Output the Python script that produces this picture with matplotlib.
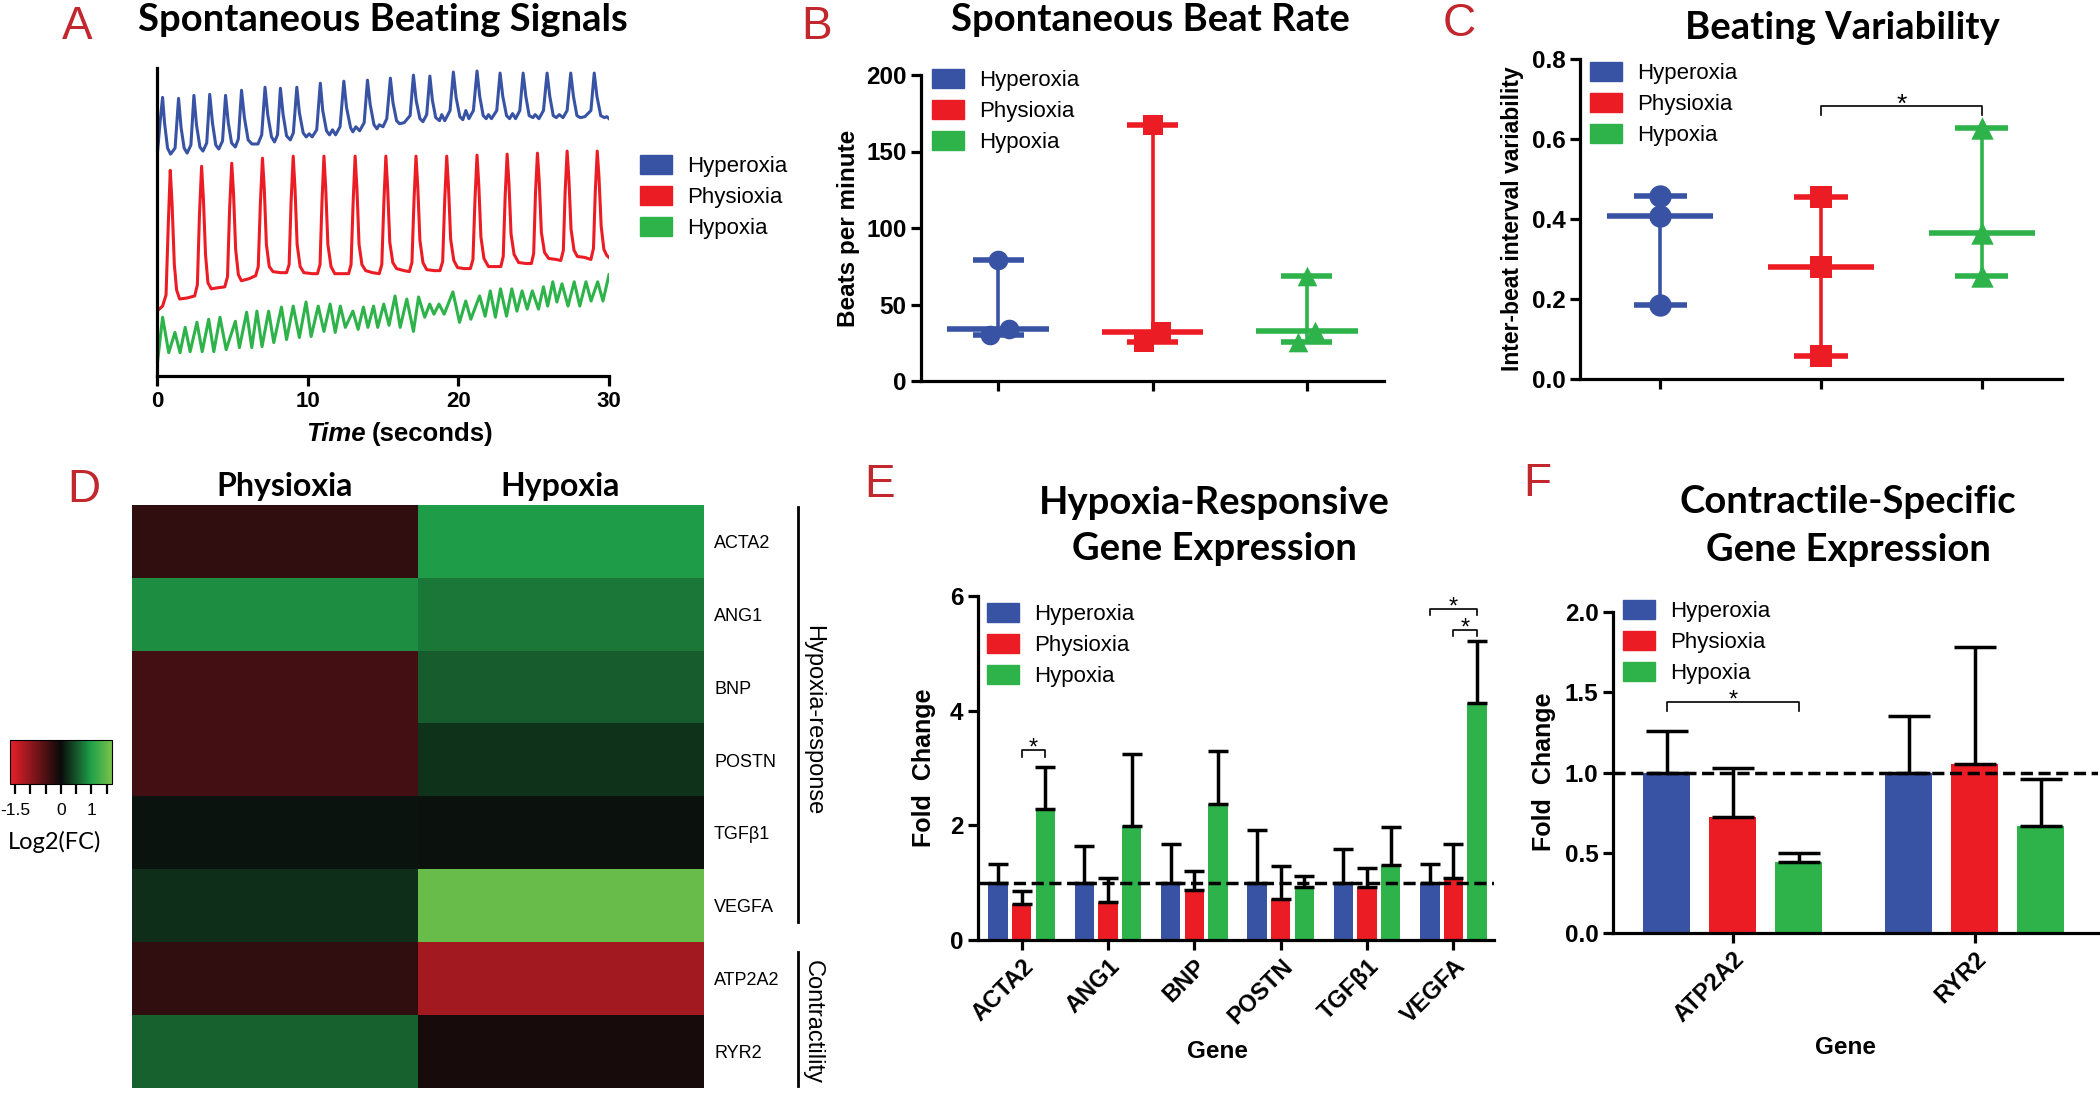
import numpy as np
import matplotlib
matplotlib.use('Agg')
import matplotlib.pyplot as plt
from matplotlib.patches import Patch
from matplotlib.lines import Line2D
from matplotlib.colors import LinearSegmentedColormap, Normalize
from matplotlib import font_manager as fm

# ======================= DATA =======================
GROUPS = ['Hyperoxia', 'Physioxia', 'Hypoxia']

# --- Panel A: spontaneous beating traces (time [s], signal [a.u.]) ---
hyperoxia_trace = [
    (0.0, 215), (0.2, 250), (0.37, 275), (0.5, 250), (0.7, 225), (0.9, 219), (1.2, 225), (1.43, 274),
    (1.6, 245), (1.8, 225), (2.0, 220), (2.25, 228), (2.45, 277), (2.62, 248), (2.85, 226), (3.05, 222),
    (3.3, 230), (3.5, 278), (3.68, 250), (3.9, 228), (4.1, 224), (4.35, 232), (4.55, 277), (4.73, 250),
    (4.95, 230), (5.2, 226), (5.4, 234), (5.61, 282), (5.8, 255), (6.05, 233), (6.3, 229), (6.7, 229),
    (6.95, 238), (7.17, 285), (7.35, 258), (7.6, 236), (7.8, 231), (8.0, 238), (8.19, 284), (8.37, 258),
    (8.6, 237), (8.85, 233), (9.05, 240), (9.28, 285), (9.45, 260), (9.7, 240), (9.9, 236), (10.1, 239),
    (10.3, 236), (10.6, 243), (10.84, 289), (11.0, 262), (11.25, 242), (11.45, 238), (11.65, 243),
    (11.85, 238), (12.15, 246), (12.4, 291), (12.58, 265), (12.85, 245), (13.0, 241), (13.2, 246),
    (13.45, 242), (13.75, 250), (13.97, 292), (14.15, 268), (14.4, 248), (14.6, 244), (14.75, 248),
    (15.0, 246), (15.25, 254), (15.49, 294), (15.66, 270), (15.9, 252), (16.1, 249), (16.4, 250),
    (16.8, 257), (17.02, 297), (17.2, 272), (17.45, 254), (17.65, 251), (17.9, 258), (18.11, 296),
    (18.28, 272), (18.5, 255), (18.75, 252), (18.9, 258), (19.1, 252), (19.45, 262), (19.67, 300),
    (19.85, 275), (20.1, 256), (20.3, 253), (20.5, 262), (20.7, 254), (21.0, 262), (21.24, 301),
    (21.42, 276), (21.65, 257), (21.85, 254), (22.0, 258), (22.2, 254), (22.55, 262), (22.77, 299),
    (22.95, 276), (23.2, 257), (23.4, 254), (23.6, 259), (23.8, 254), (24.08, 262), (24.3, 299),
    (24.48, 276), (24.7, 257), (24.95, 255), (25.1, 258), (25.35, 254), (25.65, 262), (25.89, 299),
    (26.07, 276), (26.3, 257), (26.5, 255), (26.7, 258), (26.95, 255), (27.22, 262), (27.46, 299),
    (27.64, 276), (27.87, 257), (28.1, 255), (28.4, 256), (28.8, 262), (29.02, 299), (29.2, 276),
    (29.45, 257), (29.7, 255), (29.85, 256), (30.0, 254)]

physioxia_trace = [
    (0.0, 64), (0.37, 69), (0.6, 80), (0.75, 150), (0.88, 203), (1.0, 170), (1.15, 110), (1.3, 85),
    (1.5, 76), (2.0, 77), (2.5, 79), (2.68, 90), (2.82, 160), (2.96, 207), (3.08, 175), (3.22, 120),
    (3.38, 92), (3.6, 86), (4.0, 87), (4.5, 88), (4.68, 98), (4.82, 165), (4.96, 210), (5.08, 180),
    (5.22, 125), (5.4, 100), (5.6, 94), (6.1, 96), (6.55, 99), (6.72, 108), (6.86, 170), (7.0, 215),
    (7.12, 185), (7.26, 130), (7.45, 108), (7.7, 103), (8.2, 102), (8.6, 102), (8.77, 110), (8.9, 172),
    (9.04, 217), (9.16, 185), (9.3, 130), (9.5, 108), (9.75, 102), (10.3, 101), (10.65, 101),
    (10.82, 110), (10.95, 172), (11.08, 217), (11.2, 185), (11.34, 130), (11.55, 108), (11.8, 101),
    (12.3, 101), (12.72, 101), (12.88, 110), (13.02, 172), (13.15, 217), (13.27, 185), (13.41, 130),
    (13.6, 110), (13.85, 104), (14.3, 102), (14.75, 101), (14.92, 110), (15.06, 172), (15.19, 217),
    (15.31, 185), (15.45, 132), (15.65, 112), (15.9, 106), (16.4, 104), (16.75, 103), (16.92, 112),
    (17.06, 174), (17.19, 217), (17.31, 186), (17.45, 134), (17.65, 112), (17.9, 105), (18.4, 104),
    (18.78, 104), (18.96, 113), (19.1, 175), (19.23, 217), (19.35, 186), (19.49, 135), (19.7, 114),
    (19.95, 107), (20.4, 106), (20.8, 106), (20.97, 115), (21.11, 176), (21.24, 218), (21.36, 188),
    (21.5, 137), (21.7, 116), (22.0, 108), (22.5, 108), (22.82, 108), (22.98, 118), (23.11, 178),
    (23.24, 219), (23.36, 190), (23.5, 140), (23.7, 120), (24.0, 112), (24.5, 111), (24.85, 111),
    (25.0, 121), (25.12, 180), (25.25, 220), (25.37, 192), (25.51, 142), (25.72, 122), (26.0, 116),
    (26.5, 115), (26.8, 114), (26.97, 124), (27.09, 182), (27.22, 222), (27.34, 194), (27.48, 145),
    (27.68, 124), (27.9, 118), (28.4, 117), (28.8, 115), (28.97, 126), (29.09, 182), (29.22, 222),
    (29.34, 195), (29.48, 148), (29.66, 125), (29.85, 119), (30.0, 117)]

hypoxia_trace = [
    (0.0, 9), (0.37, 58), (0.78, 23), (1.19, 43), (1.53, 23), (1.87, 48), (2.2, 24), (2.65, 53),
    (3.0, 24), (3.43, 56), (3.77, 24), (4.18, 58), (4.59, 26), (5.2, 54), (5.47, 28), (5.95, 63),
    (6.29, 28), (6.63, 64), (6.97, 29), (7.41, 64), (7.75, 33), (8.26, 68), (8.6, 36), (9.04, 69),
    (9.45, 38), (9.89, 73), (10.23, 39), (10.7, 69), (11.08, 44), (11.49, 71), (11.83, 43), (12.17, 69),
    (12.5, 48), (13.0, 64), (13.35, 46), (13.7, 68), (14.0, 48), (14.37, 69), (14.65, 48), (15.05, 71),
    (15.4, 50), (15.8, 79), (16.14, 48), (16.58, 76), (17.02, 44), (17.36, 78), (17.77, 58), (18.1, 71),
    (18.38, 61), (18.72, 71), (19.06, 61), (19.64, 83), (20.08, 53), (20.49, 74), (20.83, 56),
    (21.41, 79), (21.78, 59), (22.12, 84), (22.46, 58), (22.8, 86), (23.2, 59), (23.55, 86), (23.89, 64),
    (24.23, 84), (24.57, 66), (24.91, 84), (25.32, 66), (25.65, 88), (25.93, 69), (26.27, 93),
    (26.54, 73), (26.88, 91), (27.28, 69), (27.69, 93), (28.06, 69), (28.47, 93), (28.81, 74),
    (29.25, 93), (29.6, 74), (30.0, 100)]
A_xticks = [0, 10, 20, 30]

# --- Panel B: beats per minute (individual samples) ---
B_hyperoxia = [30, 34, 79]
B_physioxia = [25.5, 32, 167]
B_hypoxia = [25.5, 32.5, 68.5]
B_yticks = [0, 50, 100, 150, 200]

# --- Panel C: inter-beat interval variability ---
C_hyperoxia = [0.185, 0.407, 0.457]
C_physioxia = [0.058, 0.280, 0.454]
C_hypoxia = [0.257, 0.365, 0.627]
C_yticks = [0.0, 0.2, 0.4, 0.6, 0.8]
C_sig = [(1, 2, 0.682)]          # (group a, group b, bracket height)

# --- Panel D: heatmap log2 fold change ---
D_genes = ['ACTA2', 'ANG1', 'BNP', 'POSTN', 'TGFβ1', 'VEGFA', 'ATP2A2', 'RYR2']
D_conditions = ['Physioxia', 'Hypoxia']
D_physioxia_log2fc = [-0.29, 0.87, -0.43, -0.43, 0.07, 0.24, -0.29, 0.59]
D_hypoxia_log2fc = [0.97, 0.73, 0.54, 0.27, 0.05, 1.55, -1.15, -0.10]
D_cbar_ticks = [-1.5, -1.0, -0.5, 0.0, 0.5, 1.0, 1.5]
D_cbar_labels = ['-1.5', '', '', '0', '', '1', '']

# --- Panel E: hypoxia-responsive gene expression (fold change, mean + SD) ---
E_genes = ['ACTA2', 'ANG1', 'BNP', 'POSTN', 'TGFβ1', 'VEGFA']
E_hyperoxia = [1.0, 1.0, 1.0, 1.0, 1.0, 1.0]
E_hyperoxia_err = [0.32, 0.64, 0.67, 0.91, 0.58, 0.32]
E_physioxia = [0.62, 0.67, 0.88, 0.72, 0.92, 1.09]
E_physioxia_err = [0.23, 0.42, 0.32, 0.57, 0.33, 0.58]
E_hypoxia = [2.28, 1.98, 2.38, 0.92, 1.31, 4.13]
E_hypoxia_err = [0.73, 1.27, 0.92, 0.19, 0.66, 1.08]
E_yticks = [0, 2, 4, 6]
E_sig = [(0, 1, 2, 3.31), (5, 0, 2, 5.78), (5, 1, 2, 5.41)]   # (gene, group a, group b, height)

# --- Panel F: contractile-specific gene expression ---
F_genes = ['ATP2A2', 'RYR2']
F_hyperoxia = [1.0, 1.0]
F_hyperoxia_err = [0.26, 0.35]
F_physioxia = [0.724, 1.05]
F_physioxia_err = [0.306, 0.73]
F_hypoxia = [0.44, 0.667]
F_hypoxia_err = [0.06, 0.293]
F_yticks = [0.0, 0.5, 1.0, 1.5, 2.0]
F_sig = [(0, 0, 2, 1.44)]

# ======================= STYLE / LAYOUT =======================
W, H = 2100, 1100
fig = plt.figure(figsize=(W / 100, H / 100), dpi=100)
fig.patch.set_facecolor('white')


def box(x0, y0, x1, y1):
    return [x0 / W, 1 - y1 / H, (x1 - x0) / W, (y1 - y0) / H]


def fx(x):
    return x / W


def fy(y):
    return 1 - y / H


avail = {f.name for f in fm.fontManager.ttflist}
SANS = 'Liberation Sans' if 'Liberation Sans' in avail else 'DejaVu Sans'
TITLEF = 'Lato' if 'Lato' in avail else SANS
plt.rcParams['font.family'] = SANS

BLUE, RED, GREEN = '#3953a4', '#ec1c24', '#2db34a'
COLORS = [BLUE, RED, GREEN]
MARKERS = ['o', 's', '^']
LETTER = '#c1272d'
SPW = 2.3
TICKFS = 17.5
TITLEFS = 27.5


def style_axes(ax, labelsize=TICKFS):
    for s in ('top', 'right'):
        ax.spines[s].set_visible(False)
    for s in ('left', 'bottom'):
        ax.spines[s].set_linewidth(SPW)
    ax.tick_params(width=SPW, length=7, direction='out', labelsize=labelsize)


def add_legend(ax, x_left, y_top):
    handles = [Patch(facecolor=c, edgecolor=c) for c in COLORS]
    ax.legend(handles, GROUPS, loc='upper left', bbox_to_anchor=(fx(x_left), fy(y_top)),
              bbox_transform=fig.transFigure, frameon=False, fontsize=16,
              handlelength=1.45, handleheight=0.95, handletextpad=0.65,
              labelspacing=0.4, borderpad=0, borderaxespad=0)


def title(x, y, s, size=TITLEFS):
    fig.text(fx(x), fy(y), s, ha='center', va='center', fontsize=size,
             fontweight='bold', family=TITLEF)


def letter(x, y, s):
    fig.text(fx(x), fy(y), s, ha='center', va='center', fontsize=33, color=LETTER)


def vlabel(x, y, s, size):
    fig.text(fx(x), fy(y), s, ha='center', va='center', rotation=90,
             fontsize=size, fontweight='bold')


def bracket(ax, x1, x2, ytop, drop, fs=17):
    ax.plot([x1, x1, x2, x2], [ytop - drop, ytop, ytop, ytop - drop], color='black', lw=1.2,
            zorder=6, clip_on=False)
    ax.annotate('*', xy=((x1 + x2) / 2, ytop), xytext=(0, 1), textcoords='offset points',
                ha='center', va='center', fontsize=fs, zorder=6)


# ======================= PANEL A =======================
letter(77, 27, 'A')
title(383, 20, 'Spontaneous Beating Signals')
axA = fig.add_axes(box(157, 68, 609, 376))
for trace, c in zip([hyperoxia_trace, physioxia_trace, hypoxia_trace], COLORS):
    t, v = zip(*trace)
    axA.plot(t, v, color=c, lw=2.2, solid_joinstyle='round')
axA.set_xlim(0, 30)
axA.set_ylim(0, 304)
style_axes(axA, labelsize=16)
axA.set_yticks([])
axA.set_xticks(A_xticks, [str(v) for v in A_xticks], fontweight='bold')
fig.text(fx(366), fy(441), 'Time', ha='right', va='baseline', fontsize=18.5,
         fontweight='bold', style='italic')
fig.text(fx(372), fy(441), '(seconds)', ha='left', va='baseline', fontsize=18.5, fontweight='bold')
add_legend(axA, 640, 155)


# ======================= PANELS B & C =======================
def range_plot(ax, datasets, jitters, ms):
    for i, (vals, c, m, jit) in enumerate(zip(datasets, COLORS, MARKERS, jitters)):
        lo, med, hi = min(vals), float(np.median(vals)), max(vals)
        ax.plot([i, i], [lo, hi], color=c, lw=2.6, zorder=2)
        ax.plot([i - 0.33, i + 0.33], [med, med], color=c, lw=4.0, zorder=3, solid_capstyle='butt')
        for v in (lo, hi):
            ax.plot([i - 0.165, i + 0.165], [v, v], color=c, lw=4.0, zorder=3, solid_capstyle='butt')
        ax.scatter(np.array(jit) + i, vals, marker=m, s=ms, color=c, zorder=4, linewidths=0)


letter(817, 27, 'B')
title(1150, 20, 'Spontaneous Beat Rate')
axB = fig.add_axes(box(921, 75, 1384, 381))
B_JITTER = [[-0.055, 0.068, 0.0], [-0.055, 0.055, 0.0], [-0.06, 0.055, 0.0]]
range_plot(axB, [B_hyperoxia, B_physioxia, B_hypoxia], B_JITTER, 200)
axB.set_xlim(-0.5, 2.5)
axB.set_ylim(0, 200)
style_axes(axB)
axB.set_yticks(B_yticks, [str(v) for v in B_yticks], fontweight='bold')
axB.set_xticks([0, 1, 2], ['', '', ''])
vlabel(849, 228, 'Beats per minute', 17.5)
add_legend(axB, 932, 69)

letter(1459, 24, 'C')
title(1842, 28, 'Beating Variability')
axC = fig.add_axes(box(1580, 59, 2062, 379))
range_plot(axC, [C_hyperoxia, C_physioxia, C_hypoxia], [[0, 0, 0]] * 3, 260)
axC.set_xlim(-0.5, 2.5)
axC.set_ylim(0, 0.8)
style_axes(axC)
axC.set_yticks(C_yticks, [f'{v:.1f}' for v in C_yticks], fontweight='bold')
axC.set_xticks([0, 1, 2], ['', '', ''])
vlabel(1513, 219, 'Inter-beat interval variability', 16.5)
for a, b, h in C_sig:
    bracket(axC, a, b, h, 0.022, fs=19)
add_legend(axC, 1590, 62)

# ======================= PANEL D =======================
letter(84, 490, 'D')
axD = fig.add_axes(box(132, 505, 703, 1088))
M = np.column_stack([D_physioxia_log2fc, D_hypoxia_log2fc])
vmin, vmax = -1.66, 1.67
cmap = LinearSegmentedColormap.from_list(
    'rg', [(0.0, '#e8202a'), ((0 - vmin) / (vmax - vmin), '#0a0a0a'),
           ((1.0 - vmin) / (vmax - vmin), '#20a049'), (1.0, '#78c24a')])
im = axD.imshow(M, cmap=cmap, norm=Normalize(vmin, vmax), aspect='auto', interpolation='nearest')
axD.set_xticks([])
axD.yaxis.tick_right()
axD.set_yticks(range(len(D_genes)), D_genes, fontsize=13)
axD.tick_params(axis='y', length=0, pad=8)
for s in axD.spines.values():
    s.set_visible(False)
for xc, name in zip([285, 560], D_conditions):
    fig.text(fx(xc), fy(486), name, ha='center', va='center', fontsize=23,
             fontweight='bold', family=TITLEF)

cax = fig.add_axes(box(10, 740, 112, 784))
cb = fig.colorbar(im, cax=cax, orientation='horizontal')
cb.set_ticks(D_cbar_ticks, labels=D_cbar_labels)
cb.ax.tick_params(length=7, width=1.6, labelsize=12.5, pad=7)
cb.outline.set_linewidth(0.8)
fig.text(fx(55), fy(842), 'Log2(FC)', ha='center', va='center', fontsize=17, family=TITLEF)

fig.add_artist(Line2D([fx(798), fx(798)], [fy(507), fy(922)], color='black', lw=2))
fig.text(fx(813), fy(720), 'Hypoxia-response', rotation=270, ha='center', va='center', fontsize=17)
fig.add_artist(Line2D([fx(798), fx(798)], [fy(952), fy(1086)], color='black', lw=2))
fig.text(fx(813), fy(1022), 'Contractility', rotation=270, ha='center', va='center', fontsize=17)


# ======================= PANELS E & F =======================
def bar_panel(ax, genes, means, errs, offsets, width, capsize):
    x = np.arange(len(genes))
    for vals, er, c, off in zip(means, errs, COLORS, offsets):
        ax.bar(x + off, vals, width=width, color=c, zorder=2)
        ax.errorbar(x + off, vals, yerr=[np.zeros(len(vals)), er], fmt='none', ecolor='black',
                    elinewidth=2.5, capsize=capsize, capthick=2.5, zorder=3)
    ax.axhline(1.0, color='black', lw=2.5, ls=(0, (3.5, 1.6)), zorder=5)
    ax.set_xticks(x, genes, rotation=45, ha='right', rotation_mode='anchor',
                  fontsize=17, fontweight='bold')


letter(880, 485, 'E')
title(1214, 503, 'Hypoxia-Responsive')
title(1214, 549, 'Gene Expression')
axE = fig.add_axes(box(978, 596, 1494, 940))
OFF_E = [-0.274, 0.0, 0.274]
bar_panel(axE, E_genes, [E_hyperoxia, E_physioxia, E_hypoxia],
          [E_hyperoxia_err, E_physioxia_err, E_hypoxia_err], OFF_E, 0.226, 7.5)
axE.set_xlim(-0.505, 5.47)
axE.set_ylim(0, 6)
style_axes(axE)
axE.set_yticks(E_yticks, [str(v) for v in E_yticks], fontweight='bold')
axE.tick_params(axis='x', labelsize=17)
for g, a, b, h in E_sig:
    bracket(axE, g + OFF_E[a], g + OFF_E[b], h, 0.11)
vlabel(924, 768, 'Fold  Change', 18)
fig.text(fx(1218), fy(1052), 'Gene', ha='center', va='center', fontsize=17.5, fontweight='bold')
add_legend(axE, 987, 603)

letter(1537, 484, 'F')
title(1848, 502, 'Contractile-Specific')
title(1848, 550, 'Gene Expression')
axF = fig.add_axes(box(1613, 612, 2098, 933))
OFF_F = [-0.273, 0.0, 0.273]
bar_panel(axF, F_genes, [F_hyperoxia, F_physioxia, F_hypoxia],
          [F_hyperoxia_err, F_physioxia_err, F_hypoxia_err], OFF_F, 0.194, 15)
axF.set_xlim(-0.496, 1.51)
axF.set_ylim(0, 2)
style_axes(axF)
axF.set_yticks(F_yticks, [f'{v:.1f}' for v in F_yticks], fontweight='bold')
axF.tick_params(axis='x', labelsize=17)
for g, a, b, h in F_sig:
    bracket(axF, g + OFF_F[a], g + OFF_F[b], h, 0.055)
vlabel(1544, 772, 'Fold  Change', 18)
fig.text(fx(1845), fy(1048), 'Gene', ha='center', va='center', fontsize=17.5, fontweight='bold')
add_legend(axF, 1623, 600)

fig.savefig('out.png', dpi=100, facecolor='white')
